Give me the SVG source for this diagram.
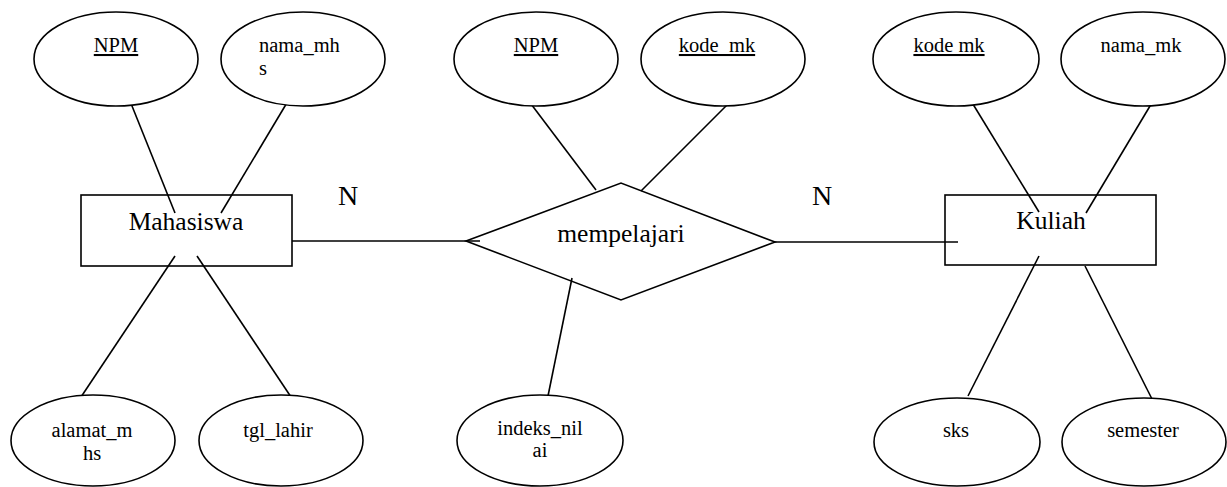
<svg xmlns="http://www.w3.org/2000/svg" width="1227" height="487" viewBox="0 0 1227 487">
<style>
.s{fill:#fff;stroke:#000;stroke-width:1.6}
.c line{stroke:#000;stroke-width:1.6}
text{font-family:'Liberation Serif','DejaVu Serif','Times New Roman',serif;fill:#000}
.a{font-size:20.5px;text-anchor:middle}
.al{font-size:20.5px}
.e{font-size:25.5px;text-anchor:middle}
.n{font-size:28px}
.u{text-decoration:underline}
</style>
<rect width="1227" height="487" fill="#fff"/>
<g class="c" id="connectors">
<line x1="292" y1="241" x2="480" y2="241"/>
<line x1="775" y1="242" x2="958" y2="242"/>
<line x1="128" y1="96" x2="175" y2="213"/>
<line x1="291" y1="96" x2="221" y2="213"/>
<line x1="175" y1="256" x2="81" y2="397"/>
<line x1="197" y1="256" x2="291" y2="397"/>
<line x1="525" y1="96" x2="596" y2="190"/>
<line x1="736" y1="96" x2="641" y2="191"/>
<line x1="572" y1="278" x2="548" y2="396"/>
<line x1="968" y1="96" x2="1039" y2="212"/>
<line x1="1156" y1="96" x2="1086" y2="213"/>
<line x1="1039" y1="256" x2="968" y2="396"/>
<line x1="1085" y1="266" x2="1156" y2="407"/>
</g>
<g id="mahasiswa"><rect class="s" x="81" y="195" width="211" height="71" style="fill:none"/><text class="e" x="186" y="230" font-family="Liberation Serif, serif">Mahasiswa</text></g>
<g id="kuliah"><rect class="s" x="945" y="195" width="211" height="70" style="fill:none"/><text class="e" x="1051" y="229">Kuliah</text></g>
<g id="mempelajari"><polygon class="s" points="466,241 621,183 775,242 621,300" style="fill:none"/><text class="e" x="621" y="242">mempelajari</text></g>
<g id="lbl-n1"><text class="n" x="338" y="205">N</text></g>
<g id="lbl-n2"><text class="n" x="812" y="205">N</text></g>
<g id="attr-npm1"><ellipse class="s" cx="116" cy="59" rx="82" ry="47"/><text class="a u" x="116" y="52">NPM</text></g>
<g id="attr-nama-mhs"><ellipse class="s" cx="303" cy="59" rx="82" ry="47"/><text class="al" x="259" y="52">nama_mh</text><text class="al" x="259" y="75">s</text></g>
<g id="attr-npm2"><ellipse class="s" cx="536" cy="59" rx="82" ry="47"/><text class="a u" x="536" y="52">NPM</text></g>
<g id="attr-kode-mk1"><ellipse class="s" cx="723" cy="59" rx="82" ry="47"/><text class="a u" x="717" y="52">kode_mk</text></g>
<g id="attr-kode-mk2"><ellipse class="s" cx="956" cy="59" rx="83" ry="47"/><text class="a u" x="949" y="52">kode mk</text></g>
<g id="attr-nama-mk"><ellipse class="s" cx="1143" cy="59" rx="82" ry="47"/><text class="a" x="1141" y="52">nama_mk</text></g>
<g id="attr-alamat"><ellipse class="s" cx="93" cy="440.5" rx="82" ry="45.5"/><text class="a" x="92" y="437">alamat_m</text><text class="a" x="92" y="460">hs</text></g>
<g id="attr-tgl"><ellipse class="s" cx="281" cy="440.5" rx="82" ry="45.5"/><text class="a" x="278" y="437">tgl_lahir</text></g>
<g id="attr-indeks"><ellipse class="s" cx="540" cy="440.5" rx="83" ry="45.5"/><text class="a" x="540" y="435">indeks_nil</text><text class="a" x="540" y="457">ai</text></g>
<g id="attr-sks"><ellipse class="s" cx="957" cy="442" rx="83" ry="44"/><text class="a" x="956" y="437">sks</text></g>
<g id="attr-semester"><ellipse class="s" cx="1144" cy="442" rx="82" ry="44"/><text class="a" x="1143" y="437">semester</text></g>
</svg>
